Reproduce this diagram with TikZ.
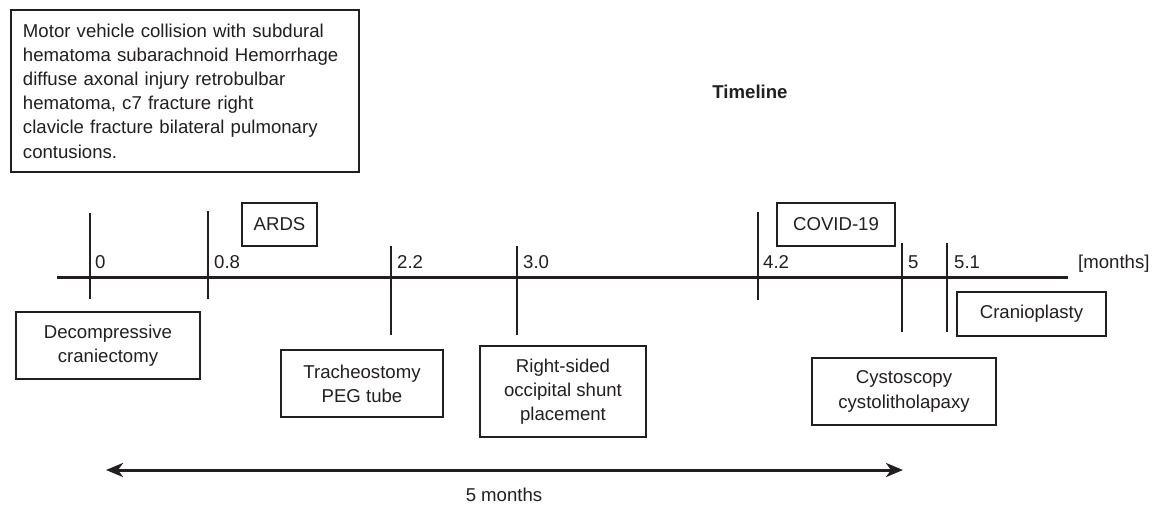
\documentclass[tikz,border=0pt]{standalone}
\usepackage{fontspec}
\setmainfont{Liberation Sans}
\usetikzlibrary{arrows.meta}
\definecolor{ink}{HTML}{231F20}
\begin{document}
\begin{tikzpicture}[x=1pt,y=-1pt,
  every node/.style={text=ink, font=\fontsize{18.6}{24.2}\selectfont},
  evbox/.style={draw=ink, line width=1.2pt, align=center, inner sep=0pt},
  tick/.style={draw=ink, line width=1.3pt},
  ticklabel/.style={anchor=base west, inner sep=0pt},
  axis/.style={draw=ink, line width=3pt},
  span/.style={draw=ink, line width=3pt, {Stealth[length=17pt,width=14pt,inset=5pt]}-{Stealth[length=17pt,width=14pt,inset=5pt]}}]
\useasboundingbox (0,0) rectangle (1153,507);
\fill[white] (0,0) rectangle (1153,507);

% injury box
\node[evbox, align=left, minimum width=348pt, minimum height=162pt, text width=324pt] (inj) at (185,91)
  {Motor vehicle collision with subdural\\hematoma subarachnoid Hemorrhage\\diffuse axonal injury retrobulbar\\hematoma, c7 fracture right\\clavicle fracture bilateral pulmonary\\contusions.};

\node[font=\fontsize{18.6}{24}\selectfont\bfseries] (title) at (750,92) {Timeline};

% axis
\coordinate (ax0) at (57,277);
\coordinate (ax1) at (1068,277);
\draw[axis] (ax0) -- (ax1);

% ticks
\coordinate (t0a) at (90,213);   \coordinate (t0b) at (90,299);
\coordinate (t1a) at (208,211);  \coordinate (t1b) at (208,299);
\coordinate (t2a) at (391,246);  \coordinate (t2b) at (391,335);
\coordinate (t3a) at (517,246);  \coordinate (t3b) at (517,335);
\coordinate (t4a) at (758,212);  \coordinate (t4b) at (758,300);
\coordinate (t5a) at (902,243);  \coordinate (t5b) at (902,332);
\coordinate (t6a) at (947,243);  \coordinate (t6b) at (947,332);
\draw[tick] (t0a) -- (t0b);
\draw[tick] (t1a) -- (t1b);
\draw[tick] (t2a) -- (t2b);
\draw[tick] (t3a) -- (t3b);
\draw[tick] (t4a) -- (t4b);
\draw[tick] (t5a) -- (t5b);
\draw[tick] (t6a) -- (t6b);

% tick labels
\node[ticklabel] (l0) at (95,268) {0};
\node[ticklabel] (l1) at (214,268) {0.8};
\node[ticklabel] (l2) at (397,268) {2.2};
\node[ticklabel] (l3) at (523,268) {3.0};
\node[ticklabel] (l4) at (763,268) {4.2};
\node[ticklabel] (l5) at (908,268) {5};
\node[ticklabel] (l6) at (954,268) {5.1};
\node[ticklabel] (unit) at (1078,268) {[months]};

% event boxes
\node[evbox, minimum width=75pt, minimum height=43pt] (ards) at (279.5,224.5) {ARDS};
\node[evbox, minimum width=118pt, minimum height=43pt] (covid) at (836,224.5) {COVID-19};
\node[evbox, minimum width=184pt, minimum height=67pt] (decomp) at (108,345.5) {Decompressive\\craniectomy};
\node[evbox, minimum width=162pt, minimum height=67pt] (trach) at (362,383.5) {Tracheostomy\\PEG tube};
\node[evbox, minimum width=166pt, minimum height=91pt] (shunt) at (563,391.5) {Right-sided\\occipital shunt\\placement};
\node[evbox, minimum width=149pt, minimum height=44pt] (cranio) at (1031.5,314) {Cranioplasty};
\node[evbox, minimum width=184pt, minimum height=67pt] (cysto) at (904,391.5) {Cystoscopy\\cystolitholapaxy};

% span arrow
\coordinate (s0) at (106,470);
\coordinate (s1) at (903,470);
\draw[span] (s0) -- (s1);
\node (spanlabel) at (504,495) {5 months};
\end{tikzpicture}
\end{document}
